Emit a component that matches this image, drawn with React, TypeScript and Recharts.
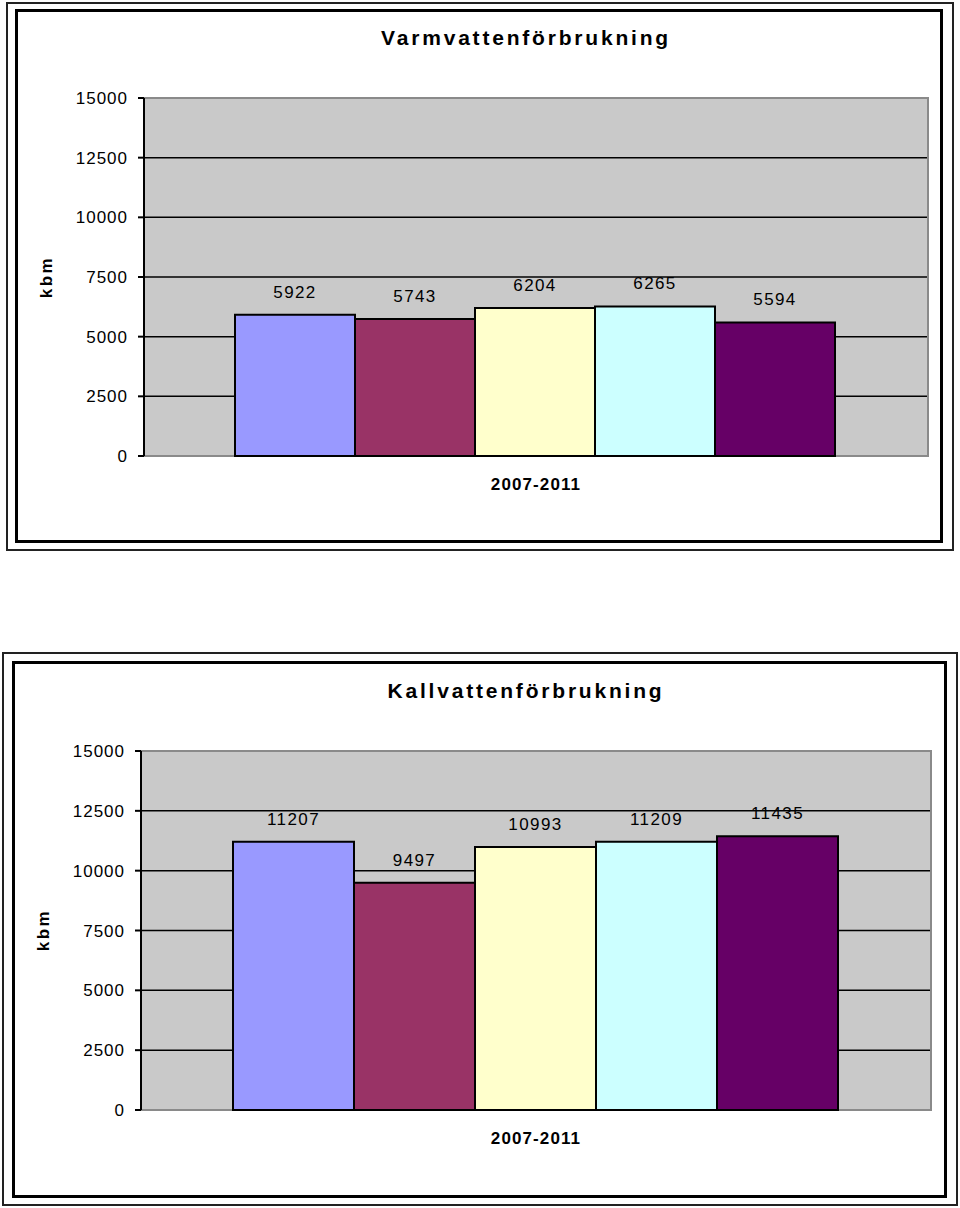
import React from "react";
import {
  BarChart,
  Bar,
  XAxis,
  YAxis,
  CartesianGrid,
  ReferenceArea,
  LabelList,
} from "recharts";

const category = "2007-2011";
const seriesKeys = ["y2007", "y2008", "y2009", "y2010", "y2011"];
const seriesColors = ["#9999ff", "#993366", "#ffffcc", "#ccffff", "#660066"];
const warmValues = [5922, 5743, 6204, 6265, 5594];
const coldValues = [11207, 9497, 10993, 11209, 11435];
const yTicks = [0, 2500, 5000, 7500, 10000, 12500, 15000];
const gridValues = [2500, 5000, 7500, 10000, 12500];

const FONT = "'Liberation Sans', Arial, sans-serif";

const toRow = (values: number[]) => {
  const row: Record<string, any> = { name: category };
  seriesKeys.forEach((k, i) => (row[k] = values[i]));
  return [row];
};

interface PanelProps {
  title: string;
  values: number[];
  top: number;
  margin: { top: number; right: number; bottom: number; left: number };
  gap: number;
  titleY: number;
  kbm: { x: number; y: number };
  outer: { left: number; top: number; width: number; height: number };
  inner: { left: number; top: number; width: number; height: number };
}

const Panel: React.FC<PanelProps> = ({ title, values, top, margin, gap, titleY, kbm, outer, inner }) => {
  const data = toRow(values);
  return (
    <>
      <div style={{ position: "absolute", boxSizing: "border-box", border: "2px solid #222", ...outer }} />
      <div style={{ position: "absolute", boxSizing: "border-box", border: "3px solid #000", ...inner }} />
      <div
        style={{
          position: "absolute",
          left: 226,
          width: 600,
          top: titleY - 13,
          lineHeight: "26px",
          textAlign: "center",
          fontFamily: FONT,
          fontWeight: "bold",
          fontSize: 21,
          letterSpacing: 2.8,
        }}
      >
        {title}
      </div>
      <div
        style={{
          position: "absolute",
          left: kbm.x - 30,
          top: kbm.y - 10,
          width: 60,
          lineHeight: "20px",
          textAlign: "center",
          transform: "rotate(-90deg)",
          fontFamily: FONT,
          fontWeight: "bold",
          fontSize: 17,
          letterSpacing: 2.5,
        }}
      >
        kbm
      </div>
      <div style={{ position: "absolute", left: 0, top }}>
        <BarChart width={960} height={560} data={data} margin={margin} barGap={0} barCategoryGap={gap}>
          <CartesianGrid
            vertical={false}
            horizontalValues={gridValues}
            fill="#c9c9c9"
            fillOpacity={1}
            stroke="#000"
            strokeWidth={1.5}
          />
          <ReferenceArea y1={0} y2={15000} fill="none" stroke="#8a8a8a" strokeWidth={2} />
          <XAxis
            dataKey="name"
            height={40}
            axisLine={false}
            tickLine={false}
            tickSize={6}
            tickMargin={16}
            tick={{ fill: "#000", fontFamily: FONT, fontWeight: "bold", fontSize: 17, letterSpacing: 1.1 }}
          />
          <YAxis
            width={70}
            domain={[0, 15000]}
            ticks={yTicks}
            interval={0}
            axisLine={{ stroke: "#000", strokeWidth: 2 }}
            tickLine={{ stroke: "#000", strokeWidth: 2 }}
            tickSize={6}
            tickMargin={10}
            tick={{ fill: "#000", fontFamily: FONT, fontSize: 17, letterSpacing: 1 }}
          />
          {seriesKeys.map((k, i) => (
            <Bar key={k} dataKey={k} fill={seriesColors[i]} stroke="#000" strokeWidth={2} isAnimationActive={false}>
              <LabelList
                dataKey={k}
                position="top"
                offset={17}
                style={{ fill: "#000", fontFamily: FONT, fontSize: 17, letterSpacing: 1.4 }}
              />
            </Bar>
          ))}
        </BarChart>
      </div>
    </>
  );
};

export default function App() {
  return (
    <div style={{ position: "absolute", left: 0, top: 0, width: 960, height: 1208, background: "#fff" }}>
      <Panel
        title="Varmvattenförbrukning"
        values={warmValues}
        top={0}
        margin={{ top: 98, right: 32, bottom: 64, left: 74 }}
        gap={91}
        titleY={38}
        kbm={{ x: 47, y: 277 }}
        outer={{ left: 6, top: 2, width: 948, height: 549 }}
        inner={{ left: 15, top: 9, width: 928, height: 534 }}
      />
      <Panel
        title="Kallvattenförbrukning"
        values={coldValues}
        top={600}
        margin={{ top: 151, right: 29, bottom: 10, left: 71 }}
        gap={92}
        titleY={691}
        kbm={{ x: 44, y: 930 }}
        outer={{ left: 2, top: 652, width: 956, height: 554 }}
        inner={{ left: 12, top: 661, width: 935, height: 537 }}
      />
    </div>
  );
}
